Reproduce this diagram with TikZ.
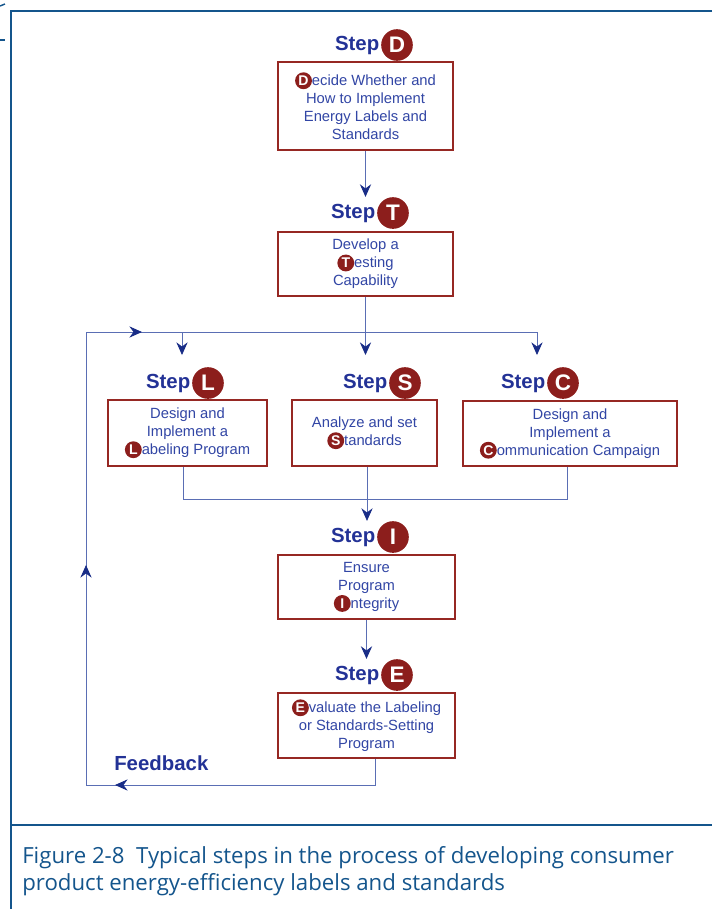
\documentclass[tikz,border=0pt]{standalone}
\usepackage{fontspec}
\setmainfont{Liberation Sans}
\newfontfamily\capfont{Open Sans}
\usetikzlibrary{positioning,arrows.meta}

\definecolor{framblue}{RGB}{20,85,140}
\definecolor{stepblue}{RGB}{35,50,150}
\definecolor{txtblue}{RGB}{50,70,165}
\definecolor{lineblue}{RGB}{90,110,180}
\definecolor{tipblue}{RGB}{25,45,135}
\definecolor{boxred}{RGB}{150,40,35}
\definecolor{dotred}{RGB}{140,30,28}

\tikzset{
  stepbox/.style={draw=boxred, line width=1.6pt, fill=white, align=center,
    text=txtblue, font=\fontsize{10.5}{12.8}\selectfont, inner sep=2pt},
  steplabel/.style={text=stepblue, font=\fontsize{14.5}{16}\selectfont\bfseries, inner sep=0pt},
  bigdot/.style={circle, fill=dotred, text=white, font=\fontsize{16}{16}\selectfont\bfseries,
    minimum size=22.5pt, inner sep=0pt},
  flow/.style={draw=lineblue, line width=0.6pt},
  tip/.style={-{Stealth[length=9pt,width=8pt,inset=3pt,color=tipblue]}}
}
% small letter disc inside the box texts
\newcommand{\dotl}[1]{\tikz[baseline=(c.base)]\node[circle, draw=none, fill=dotred, text=white,
  font=\fontsize{10}{10}\selectfont\bfseries, minimum size=12pt, inner sep=0pt](c){#1};}

\begin{document}
\begin{tikzpicture}[x=0.025cm,y=-0.025cm]
  \useasboundingbox (0,0) rectangle (712,909);

  % FRAME
  \draw[framblue, line width=2pt] (712,11) -- (11,11) -- (11,909);
  \draw[framblue, line width=2pt] (11,825) -- (712,825);
  \draw[framblue, line width=1pt] (0,40) -- (5,40);
  \draw[framblue, line width=1pt] (0,6) -- (5,4);

  % BOXES
  \node[stepbox, minimum width=4.375cm, minimum height=2.2cm] (D) at (365.5,106)
    {\dotl{D}ecide Whether and\\How to Implement\\Energy Labels and\\Standards};
  \node[stepbox, minimum width=4.375cm, minimum height=1.6cm] (T) at (365.5,264)
    {Develop a\\\dotl{T}esting\\Capability};
  \node[stepbox, minimum width=3.975cm, minimum height=1.65cm] (L) at (187.5,433)
    {Design and\\Implement a\\\dotl{L}abeling Program};
  \node[stepbox, minimum width=3.625cm, minimum height=1.65cm] (S) at (364.5,433)
    {Analyze and set\\\dotl{S}tandards};
  \node[stepbox, minimum width=5.35cm, minimum height=1.625cm] (C) at (570,433.5)
    {Design and\\Implement a\\\dotl{C}ommunication Campaign};
  \node[stepbox, minimum width=4.425cm, minimum height=1.6cm] (I) at (366.5,587)
    {Ensure\\Program\\\dotl{I}ntegrity};
  \node[stepbox, minimum width=4.425cm, minimum height=1.625cm] (E) at (366.5,725.5)
    {\dotl{E}valuate the Labeling\\or Standards-Setting\\Program};

  % STEP LABELS
  \node[bigdot] (Dc) at (397,45) {D};
  \node[steplabel, left=1pt of Dc] (Dst) {Step};
  \node[bigdot] (Tc) at (393,213) {T};
  \node[steplabel, left=1pt of Tc] (Tst) {Step};
  \node[bigdot] (Lc) at (208,383) {L};
  \node[steplabel, left=1pt of Lc] (Lst) {Step};
  \node[bigdot] (Sc) at (405,383) {S};
  \node[steplabel, left=1pt of Sc] (Sst) {Step};
  \node[bigdot] (Cc) at (563,383) {C};
  \node[steplabel, left=1pt of Cc] (Cst) {Step};
  \node[bigdot] (Ic) at (393,537) {I};
  \node[steplabel, left=1pt of Ic] (Ist) {Step};
  \node[bigdot] (Ec) at (397,675) {E};
  \node[steplabel, left=1pt of Ec] (Est) {Step};

  % JUNCTIONS
  \coordinate (bL) at (182,332);
  \coordinate (bC) at (537,332);
  \coordinate (ends) at (0,355);
  \coordinate (mL) at (183,499);
  \coordinate (mC) at (567,499);
  \coordinate (mS) at (367,499);
  \coordinate (fbR) at (375,785);
  \coordinate (fbL) at (86,785);
  \coordinate (fbT) at (86,332);
  \coordinate (fbA) at (115,785);
  \coordinate (fbB) at (86,565);
  \coordinate (fbC) at (142,332);

  % CONNECTORS
  \draw[flow, tip] (D.south) -- (D.south |- Tc.north);
  \draw[flow, tip] (T.south) -- (T.south |- ends);
  \draw[flow] (bL) -- (bC);
  \draw[flow, tip] (bL) -- (bL |- ends);
  \draw[flow, tip] (bC) -- (bC |- ends);
  \draw[flow] (L.south -| mL) -- (mL) -- (mC) -- (C.south -| mC);
  \draw[flow, tip] (S.south -| mS) -- (mS |- Ic.north);
  \draw[flow, tip] (I.south) -- (I.south |- Ec.north);

  % FEEDBACK
  \draw[flow] (E.south -| fbR) -- (fbR) -- (fbL) -- (fbT) -- (bL);
  \draw[flow, tip] (fbR) -- (fbA);
  \draw[flow, tip] (fbL) -- (fbB);
  \draw[flow, tip] (fbT) -- (fbC);
  \node[steplabel, anchor=west] (fb) at (114,763) {Feedback};

  % CAPTION
  \node[anchor=north west, align=left, text=framblue, inner sep=0pt,
    font=\capfont\fontsize{15.8}{19}\selectfont] (cap) at (22,846)
    {Figure 2-8\ \ Typical steps in the process of developing consumer\\
     product energy-efficiency labels and standards};
\end{tikzpicture}
\end{document}
